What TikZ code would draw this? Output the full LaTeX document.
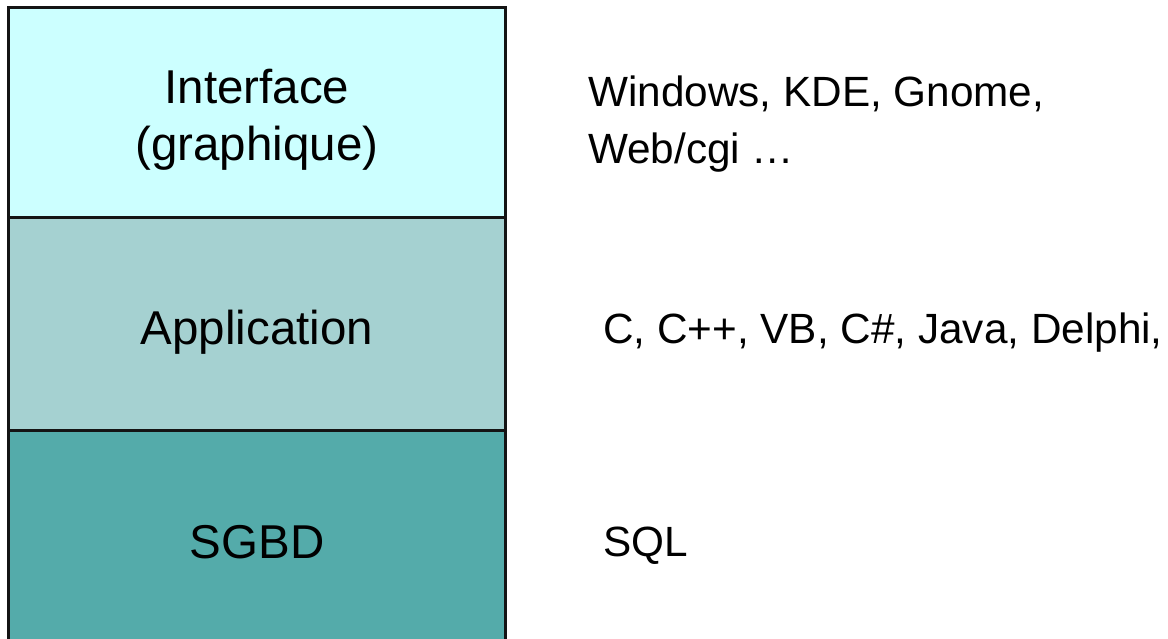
\documentclass[tikz,border=0pt]{standalone}
\usepackage{fontspec}
\setmainfont{Liberation Sans}
\definecolor{layerA}{RGB}{204,255,255}
\definecolor{layerB}{RGB}{165,209,209}
\definecolor{layerC}{RGB}{84,171,170}
\definecolor{edge}{RGB}{20,20,20}
\begin{document}
\begin{tikzpicture}[x=1pt,y=1pt,
  layer/.style={draw=edge,line width=3pt,minimum width=497pt,inner sep=0pt,outer sep=0pt,anchor=north west},
  layertext/.style={anchor=base,inner sep=0pt,font=\fontsize{47.5}{57}\selectfont},
  note/.style={anchor=base west,inner sep=0pt,font=\fontsize{42.3}{57}\selectfont}]
\useasboundingbox (0,0) rectangle (1168,-639);
\begin{scope}
\clip (0,0) rectangle (1168,-639);
\node[layer,fill=layerA,minimum height=210pt] (iface) at (8,-8) {};
\node[layer,fill=layerB,minimum height=212pt] (app) at (8,-218) {};
\node[layer,fill=layerC,minimum height=222pt] (sgbd) at (8,-430) {};
\end{scope}
\node[layertext] (l1) at (257,-104) {Interface};
\node[layertext] (l2) at (257,-161) {(graphique)};
\node[layertext] (l3) at (257,-344) {Application};
\node[layertext] (l4) at (257,-558) {SGBD};
\node[note] (t1) at (588,-107) {Windows, KDE, Gnome,};
\node[note] (t2) at (588,-164) {Web/cgi …};
\node[note] (t3) at (603,-343) {C, C++, VB, C\#, Java, Delphi,};
\node[note] (t4) at (603,-556) {SQL};
\end{tikzpicture}
\end{document}
